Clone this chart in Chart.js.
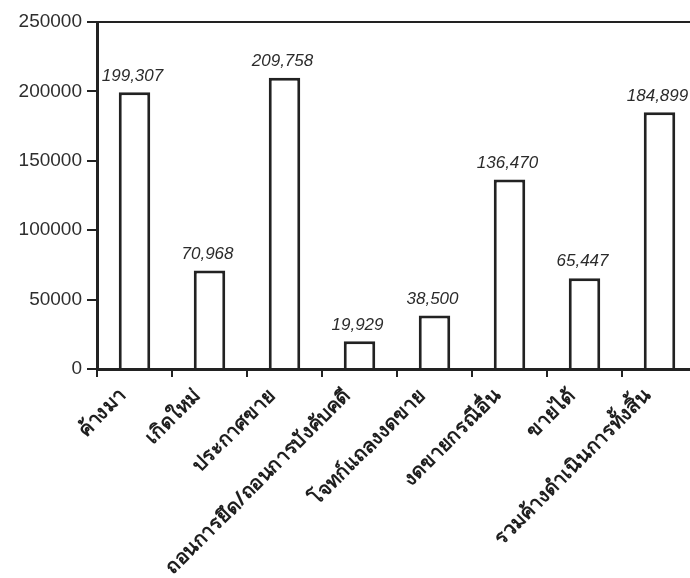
<!DOCTYPE html>
<html>
<head>
<meta charset="utf-8">
<script src="https://cdn.jsdelivr.net/npm/chart.js@4"></script>
<style>
  html, body { margin: 0; padding: 0; background: #fff; overflow: hidden; }
  canvas { display: block; }
</style>
</head>
<body>
<canvas id="case-chart" width="697" height="578"></canvas>
<script>
const categories = [
    'ค้างมา',
    'เกิดใหม่',
    'ประกาศขาย',
    'ถอนการยึด/ถอนการบังคับคดี',
    'โจทก์แถลงงดขาย',
    'งดขายกรณีอื่น',
    'ขายได้',
    'รวมค้างดำเนินการทั้งสิ้น'
];
const caseCounts = [199307, 70968, 209758, 19929, 38500, 136470, 65447, 184899];
const yMin = 0;
const yMax = 250000;
const yStep = 50000;

const ink = '#222';

// numbers above each bar, placed from the bar elements
const valueLabels = {
    id: 'valueLabels',
    afterDatasetsDraw(chart) {
        const ctx = chart.ctx;
        const meta = chart.getDatasetMeta(0);
        ctx.save();
        ctx.font = 'italic 17px "Liberation Sans", Arial, sans-serif';
        ctx.fillStyle = '#2b2b2b';
        ctx.textAlign = 'center';
        ctx.textBaseline = 'bottom';
        meta.data.forEach((bar, i) => {
            ctx.fillText(caseCounts[i].toLocaleString('en-US'), bar.x - 2, bar.y - 8);
        });
        ctx.restore();
    }
};

function noPad(scale) {
    scale.paddingLeft = 0;
    scale.paddingRight = 0;
    scale.paddingTop = 0;
    scale.paddingBottom = 0;
}

new Chart(document.getElementById('case-chart'), {
    type: 'bar',
    data: {
        labels: categories,
        datasets: [{
            data: caseCounts,
            backgroundColor: '#fff',
            borderColor: ink,
            borderWidth: 3,
            borderSkipped: 'bottom',
            categoryPercentage: 1,
            barPercentage: 0.42
        }]
    },
    options: {
        responsive: false,
        animation: false,
        layout: { padding: 0 },
        plugins: {
            legend: { display: false },
            tooltip: { enabled: false }
        },
        scales: {
            x: {
                position: 'bottom',
                offset: true,
                grid: {
                    offset: true,
                    drawOnChartArea: false,
                    tickLength: 8,
                    color: ink,
                    lineWidth: 2
                },
                border: { color: ink, width: 3 },
                ticks: {
                    autoSkip: false,
                    minRotation: 45,
                    maxRotation: 45,
                    padding: 7,
                    labelOffset: -12,
                    color: '#1e1e1e',
                    font: { family: '"Noto Sans", sans-serif', size: 20, weight: 'bold' }
                },
                afterFit(scale) {
                    scale.height = 209;
                    noPad(scale);
                }
            },
            xTop: {
                type: 'category',
                position: 'top',
                offset: true,
                grid: { drawOnChartArea: false, drawTicks: false },
                border: { color: ink, width: 2 },
                ticks: { display: false },
                afterFit(scale) {
                    scale.height = 22;
                    noPad(scale);
                }
            },
            y: {
                min: yMin,
                max: yMax,
                grid: {
                    drawOnChartArea: false,
                    tickLength: 10,
                    color: ink,
                    lineWidth: 2
                },
                border: { color: ink, width: 3 },
                ticks: {
                    stepSize: yStep,
                    padding: 5,
                    color: '#2e2e2e',
                    font: { family: '"Liberation Sans", Arial, sans-serif', size: 19 },
                    callback: v => String(v)
                },
                afterFit(scale) {
                    scale.width = 97;
                    noPad(scale);
                }
            }
        }
    },
    plugins: [valueLabels]
});
</script>
</body>
</html>
